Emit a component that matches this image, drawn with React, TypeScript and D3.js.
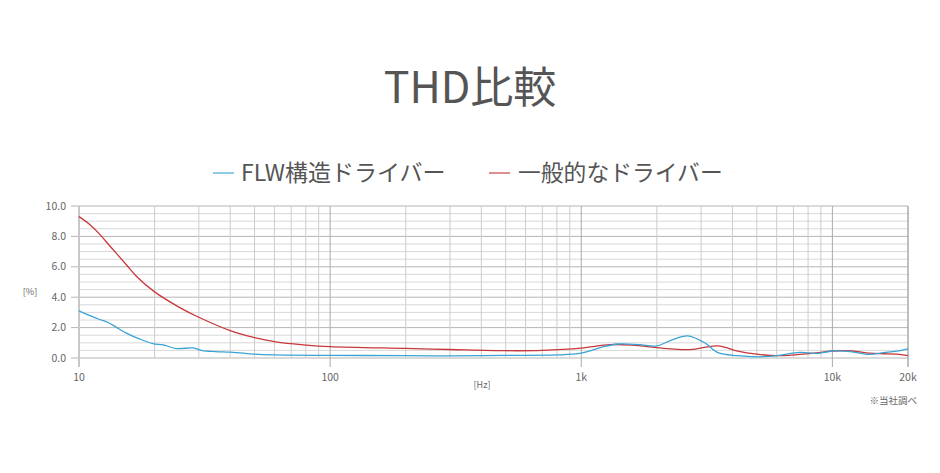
import React from "react";
import * as d3 from "d3";

const title = "THD比較";
const seriesNames = ["FLW構造ドライバー", "一般的なドライバー"];
const seriesColors = ["#3aa3d5", "#c8373a"];

const flwFreq = [10, 11, 12, 13, 14, 15.5, 17.5, 19.7, 21.6, 24.5, 28.5, 31, 35, 40, 45, 50, 60, 100, 200, 300, 500, 800, 1000, 1200, 1400, 1700, 2000, 2300, 2650, 3100, 3500, 4200, 5000, 6000, 7400, 8800, 10000, 12000, 14000, 16000, 18000, 20000];
const flwThd = [3.1, 2.8, 2.55, 2.35, 2.05, 1.62, 1.24, 0.95, 0.86, 0.62, 0.66, 0.48, 0.42, 0.38, 0.32, 0.25, 0.2, 0.17, 0.16, 0.14, 0.17, 0.2, 0.32, 0.7, 0.92, 0.88, 0.8, 1.2, 1.45, 1.0, 0.35, 0.15, 0.08, 0.15, 0.37, 0.3, 0.46, 0.4, 0.24, 0.35, 0.45, 0.6];

const genFreq = [10, 11, 12, 13.3, 15.5, 17, 20, 25, 30, 40, 50, 60, 70, 80, 100, 200, 300, 500, 700, 1000, 1300, 1600, 2000, 2700, 3500, 4200, 5000, 6000, 7400, 8800, 10000, 12000, 14000, 16000, 18000, 20000];
const genThd = [9.3, 8.8, 8.2, 7.35, 6.1, 5.35, 4.35, 3.35, 2.68, 1.8, 1.34, 1.08, 0.94, 0.85, 0.75, 0.63, 0.56, 0.48, 0.5, 0.65, 0.88, 0.85, 0.68, 0.55, 0.8, 0.45, 0.25, 0.15, 0.24, 0.35, 0.46, 0.46, 0.32, 0.28, 0.26, 0.15];

const xTickValues = [10, 100, 1000, 10000, 20000];
const xTickLabels = ["10", "100", "1k", "10k", "20k"];
const yTickValues = [0, 2, 4, 6, 8, 10];
const yTickLabels = ["0.0", "2.0", "4.0", "6.0", "8.0", "10.0"];
const yUnit = "[%]";
const xUnit = "[Hz]";
const note = "※当社調べ";

const FONT = "'Noto Sans CJK JP', 'Noto Sans', sans-serif";

export default function App() {
  const W = 940, H = 473;
  const left = 79, right = 908, top = 206, bottom = 358;
  const x = d3.scaleLog().domain([10, 20000]).range([left, right]);
  const y = d3.scaleLinear().domain([0, 10]).range([bottom, top]);

  const vGrid: number[] = [];
  for (let dec = 10; dec <= 10000; dec *= 10) {
    for (let m = 1; m <= 9; m++) {
      const f = dec * m;
      if (f <= 20000) vGrid.push(f);
    }
  }
  vGrid.push(20000);
  const hGrid = d3.range(0, 10.01, 0.5);

  const line = d3
    .line<[number, number]>()
    .x((d) => x(d[0]))
    .y((d) => y(d[1]))
    .curve(d3.curveCatmullRom.alpha(0.5));

  const flw = line(flwFreq.map((f, i) => [f, flwThd[i]] as [number, number])) || "";
  const gen = line(genFreq.map((f, i) => [f, genThd[i]] as [number, number])) || "";

  const isDecade = (f: number) => xTickValues.includes(f);
  const isMajorY = (v: number) => Math.abs(v / 2 - Math.round(v / 2)) < 1e-6;

  return (
    <div style={{ position: "absolute", left: 0, top: 0, width: W, height: H, background: "#fff" }}>
      <svg width={W} height={H} style={{ display: "block" }} fontFamily={FONT}>
        <rect width={W} height={H} fill="#fff" />
        <text x={470} y={103} textAnchor="middle" fontSize={43} fill="#555">
          {title}
        </text>
        {/* legend */}
        <line x1={213} x2={234} y1={173} y2={173} stroke={seriesColors[0]} strokeWidth={1.5} opacity={0.75} />
        <text x={241} y={181} fontSize={23} fill="#555">{seriesNames[0]}</text>
        <line x1={489} x2={510} y1={173} y2={173} stroke={seriesColors[1]} strokeWidth={1.5} opacity={0.75} />
        <text x={518} y={181} fontSize={22.8} fill="#555">{seriesNames[1]}</text>

        {/* horizontal grid */}
        {hGrid.map((v) => (
          <line
            key={"h" + v}
            x1={isMajorY(v) ? left - 8 : left}
            x2={right}
            y1={y(v)}
            y2={y(v)}
            stroke={isMajorY(v) ? "#b5b5b5" : "#d8d8d8"}
            strokeWidth={1}
          />
        ))}
        {/* vertical grid */}
        {vGrid.map((f) => (
          <line
            key={"v" + f}
            x1={x(f)}
            x2={x(f)}
            y1={top}
            y2={isDecade(f) ? bottom + 9 : bottom}
            stroke={isDecade(f) && f !== 10 ? "#aaaaaa" : f === 10 ? "#c8c8c8" : "#cccccc"}
            strokeWidth={f === 10 ? 2 : 1}
          />
        ))}

        {/* y labels */}
        {yTickValues.map((v, i) => (
          <text key={"yl" + v} x={66} y={y(v) + 3.5} textAnchor="end" fontSize={10.5} fill="#666">
            {yTickLabels[i]}
          </text>
        ))}
        <text x={30} y={295} textAnchor="middle" fontSize={9} fill="#666">{yUnit}</text>
        {/* x labels */}
        {xTickValues.map((f, i) => (
          <text key={"xl" + f} x={x(f)} y={381} textAnchor="middle" fontSize={10.5} fill="#666">
            {xTickLabels[i]}
          </text>
        ))}
        <text x={482} y={388} textAnchor="middle" fontSize={9} fill="#666">{xUnit}</text>
        <text x={917} y={404} textAnchor="end" fontSize={9.5} fill="#666">{note}</text>

        {/* series */}
        <path d={gen} fill="none" stroke={seriesColors[1]} strokeWidth={1.3} />
        <path d={flw} fill="none" stroke={seriesColors[0]} strokeWidth={1.3} />
      </svg>
    </div>
  );
}
